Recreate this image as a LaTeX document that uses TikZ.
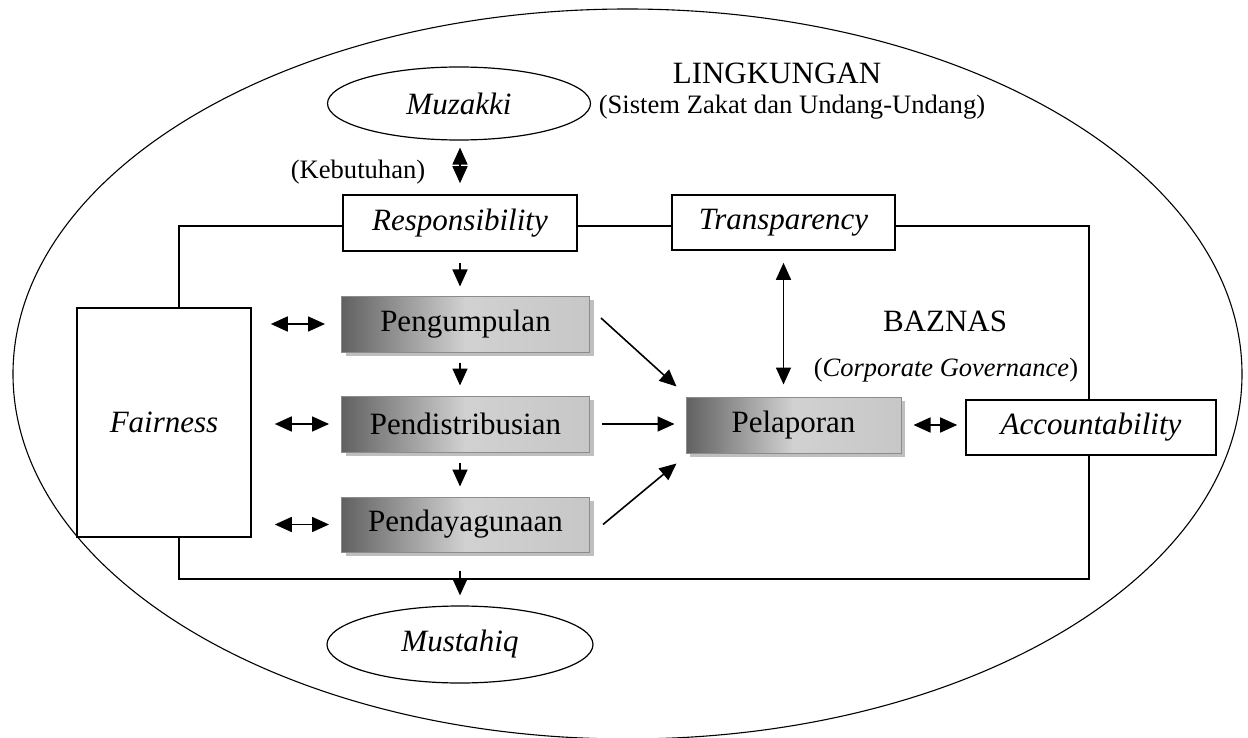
\documentclass[tikz,border=0pt]{standalone}
\usepackage{fontspec}
\setmainfont{Liberation Serif}
\usetikzlibrary{shapes.geometric,shadows,arrows.meta}
\newcommand{\fs}[1]{\fontsize{#1}{#1}\selectfont}
\tikzset{
  plainbox/.style={draw, line width=1.6pt, fill=white, inner sep=0pt, font=\fs{31}\itshape},
  shadebox/.style={draw=black!45, line width=1pt, inner sep=0pt, font=\fs{31},
     left color=black!62, right color=black!22, middle color=black!18,
     drop shadow={shadow xshift=4pt, shadow yshift=-4pt, fill=black!25, opacity=1}},
  oval/.style={draw, ellipse, line width=1.2pt, fill=white, inner sep=0pt, font=\fs{31}\itshape},
  lbl/.style={inner sep=0pt},
  arr/.style={line width=1.6pt, -{Triangle[length=17pt,width=15pt]}},
  darr/.style={line width=1.6pt, {Triangle[length=17pt,width=15pt]}-{Triangle[length=17pt,width=15pt]}},
  frame/.style={line width=1.3pt}
}
\begin{document}
\begin{tikzpicture}[x=1pt,y=-1pt]
\useasboundingbox (0,0) rectangle (1248,738);
\fill[white] (0,0) rectangle (1248,738);
% environment ellipse
\draw[line width=1.1pt] (627.5,374) ellipse [x radius=614.5, y radius=365];
% BAZNAS frame
\draw[frame] (179,226) rectangle (1089,579);
% texts
\node[lbl, font=\fs{31}] (ling) at (777,73) {LINGKUNGAN};
\node[lbl, font=\fs{26.6}] (sis) at (792,107) {(Sistem Zakat dan Undang-Undang)};
\node[lbl, font=\fs{26.6}] (keb) at (358,172) {(Kebutuhan)};
\node[lbl, font=\fs{31}] (baz) at (945,321) {BAZNAS};
\node[lbl, font=\fs{26.5}] (cg) at (946,370) {(\textit{Corporate Governance})};
% nodes
\node[oval, minimum width=263pt, minimum height=73pt] (muz) at (459,103.5) {Muzakki};
\node[oval, minimum width=266pt, minimum height=77pt] (mus) at (460,644.5) {Mustahiq};
\node[plainbox, minimum width=234pt, minimum height=56pt] (resp) at (460,223) {Responsibility};
\node[plainbox, minimum width=223pt, minimum height=55pt] (trans) at (783.5,222.5) {Transparency};
\node[plainbox, minimum width=174pt, minimum height=229pt] (fair) at (164,422.5) {Fairness};
\node[plainbox, minimum width=250pt, minimum height=55pt] (acc) at (1091,427.5) {Accountability};
\node[shadebox, minimum width=248pt, minimum height=56pt] (peng) at (465.5,324) {Pengumpulan};
\node[shadebox, minimum width=248pt, minimum height=56pt] (pdis) at (465.5,424) {Pendistribusian};
\node[shadebox, minimum width=248pt, minimum height=55pt] (pday) at (465.5,524.5) {Pendayagunaan};
\node[shadebox, minimum width=215pt, minimum height=56pt] (pel) at (793.5,425) {Pelaporan};
% connectors
\draw[darr, shorten <=7pt, shorten >=11pt] (muz.south -| resp.north) -- (resp.north);
\draw[arr, shorten <=11pt, shorten >=9pt] (resp.south) -- (resp.south |- peng.north);
\draw[arr, shorten <=10pt, shorten >=10pt] (peng.south -| resp.south) -- (resp.south |- pdis.north);
\draw[arr, shorten <=10pt, shorten >=10pt] (pdis.south -| resp.south) -- (resp.south |- pday.north);
\draw[arr, shorten <=18pt, shorten >=10pt] (pday.south -| resp.south) -- (resp.south |- mus.north);
\draw[darr, shorten <=19pt, shorten >=16pt] (fair.east |- peng.west) -- (peng.west);
\draw[darr, shorten <=23pt, shorten >=12pt] (fair.east |- pdis.west) -- (pdis.west);
\draw[darr, shorten <=23pt, shorten >=12pt] (fair.east |- pday.west) -- (pday.west);
\draw[arr] ([shift={(11,-6)}]peng.east) -- ([shift={(-9,-10)}]pel.south west |- pel.north west);
\draw[arr, shorten <=12pt, shorten >=11pt] (pdis.east) -- (pdis.east -| pel.west);
\draw[arr] ([shift={(13,0)}]pday.east) -- ([shift={(-9,10)}]pel.south west);
\draw[darr, shorten <=12pt, shorten >=12pt] (trans.south) -- (trans.south |- pel.north);
\draw[darr, shorten <=12pt, shorten >=8pt] (pel.east) -- (pel.east -| acc.west);
\end{tikzpicture}
\end{document}
